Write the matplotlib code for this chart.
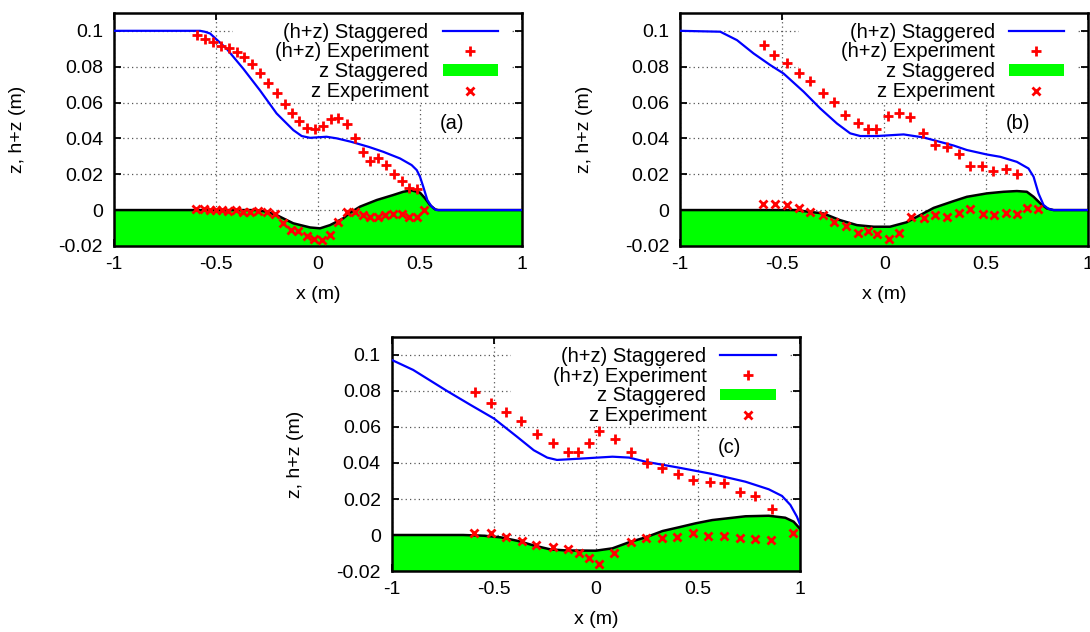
import matplotlib.pyplot as plt
from matplotlib.patches import Rectangle

plt.rcParams['font.family'] = ['Liberation Sans', 'DejaVu Sans']
plt.rcParams['font.size'] = 14

# ---- panel (a) ----
a_sim_x = [-1, -0.578, -0.555, -0.529, -0.448, -0.366, -0.284, -0.203, -0.121, -0.080, -0.039,
           0.042, 0.092, 0.162, 0.25, 0.320, 0.402, 0.459, 0.484, 0.500, 0.516, 0.536, 0.557, 0.580, 1]
a_sim_hz = [0.1, 0.1, 0.0995, 0.0985, 0.0900, 0.0788, 0.0667, 0.0539, 0.0446, 0.0413, 0.0403,
            0.0409, 0.0400, 0.0381, 0.0352, 0.0325, 0.0288, 0.0251, 0.0223, 0.0186, 0.0130, 0.0056, 0.0019, 0.0, 0.0]
a_bed_x = [-1, -0.301, -0.252, -0.203, -0.121, -0.039, 0.010, 0.059, 0.124, 0.157, 0.206, 0.288,
           0.369, 0.418, 0.459, 0.500, 0.525, 0.549, 0.574, 0.59, 1]
a_bed_z = [0, 0, -0.0009, -0.0028, -0.0074, -0.0097, -0.0102, -0.0084, -0.0046, -0.0015, 0.0019, 0.0056,
           0.0084, 0.0102, 0.0110, 0.0097, 0.0065, 0.0028, 0.0004, 0, 0]
a_exp_hz_x = [-0.595, -0.554, -0.516, -0.475, -0.436, -0.399, -0.361, -0.324, -0.284, -0.245, -0.203,
              -0.163, -0.126, -0.092, -0.052, -0.015, 0.026, 0.064, 0.100, 0.144, 0.180, 0.219, 0.255,
              0.296, 0.333, 0.373, 0.410, 0.448, 0.484]
a_exp_hz = [0.0976, 0.0954, 0.0939, 0.0917, 0.0902, 0.0880, 0.0855, 0.0814, 0.0762, 0.0707, 0.0651,
            0.0591, 0.0539, 0.0496, 0.0456, 0.0450, 0.0468, 0.0509, 0.0511, 0.0480, 0.0402, 0.0325, 0.0273,
            0.0290, 0.0249, 0.0199, 0.0163, 0.0124, 0.0115]
a_exp_z_x = [-0.598, -0.559, -0.529, -0.500, -0.469, -0.440, -0.402, -0.369, -0.333, -0.292, -0.252,
             -0.211, -0.170, -0.134, -0.100, -0.056, -0.020, 0.018, 0.059, 0.100, 0.144, 0.181, 0.219,
             0.255, 0.292, 0.328, 0.369, 0.410, 0.448, 0.484, 0.521]
a_exp_z = [0.0006, 0.0006, 0, 0, 0, -0.0006, 0, -0.0009, -0.0009, -0.0006, -0.0009,
           -0.0022, -0.0074, -0.0112, -0.0115, -0.0145, -0.0164, -0.0167, -0.0139, -0.0065, -0.0009, -0.0009, -0.0028,
           -0.0041, -0.0037, -0.0028, -0.0022, -0.0022, -0.0037, -0.0037, 0.0]

# ---- panel (b) ----
b_sim_x = [-1, -0.804, -0.722, -0.641, -0.559, -0.494, -0.395, -0.314, -0.232, -0.167, -0.118, -0.036,
           0.095, 0.193, 0.242, 0.340, 0.405, 0.503, 0.569, 0.650, 0.707, 0.732, 0.756, 0.781, 0.806, 0.83, 1]
b_sim_hz = [0.1, 0.0995, 0.0948, 0.0874, 0.0809, 0.0762, 0.0660, 0.0567, 0.0483, 0.0428, 0.0413, 0.0413,
            0.0422, 0.0405, 0.0390, 0.0360, 0.0335, 0.0310, 0.0297, 0.0269, 0.0232, 0.0186, 0.0093, 0.0028, 0.0006, 0, 0]
b_bed_x = [-1, -0.43, -0.395, -0.298, -0.217, -0.134, -0.052, 0.028, 0.110, 0.176, 0.242, 0.340, 0.405,
           0.503, 0.585, 0.650, 0.699, 0.732, 0.765, 0.797, 0.83, 1]
b_bed_z = [0, 0, -0.0006, -0.0019, -0.0056, -0.0084, -0.0093, -0.0093, -0.0068, -0.0028, 0.0012, 0.0050,
           0.0074, 0.0093, 0.0102, 0.0106, 0.0102, 0.0074, 0.0037, 0.0009, 0, 0]
b_exp_hz_x = [-0.588, -0.539, -0.477, -0.420, -0.363, -0.301, -0.248, -0.193, -0.131, -0.078, -0.039,
              0.018, 0.074, 0.127, 0.188, 0.247, 0.307, 0.366, 0.422, 0.479, 0.533, 0.598, 0.650]
b_exp_hz = [0.0920, 0.0864, 0.0822, 0.0766, 0.0721, 0.0654, 0.0604, 0.0530, 0.0483, 0.0455, 0.0455,
            0.0524, 0.0543, 0.0521, 0.0428, 0.0363, 0.0350, 0.0312, 0.0247, 0.0245, 0.0218, 0.0229, 0.0199]
b_exp_z_x = [-0.595, -0.538, -0.477, -0.420, -0.363, -0.302, -0.248, -0.186, -0.129, -0.078, -0.036,
             0.023, 0.074, 0.131, 0.193, 0.247, 0.307, 0.366, 0.422, 0.482, 0.539, 0.598, 0.650, 0.699, 0.752]
b_exp_z = [0.0033, 0.0033, 0.0028, 0.0009, -0.0009, -0.0028, -0.0065, -0.0089, -0.0130, -0.0117, -0.0134,
           -0.0164, -0.0126, -0.0041, -0.0046, -0.0028, -0.0037, -0.0015, 0.0004, -0.0022, -0.0028, -0.0019,
           -0.0022, 0.0009, 0.0004]

# ---- panel (c) ----
c_sim_x = [-1, -0.896, -0.733, -0.614, -0.5, -0.386, -0.305, -0.239, -0.191, -0.081, 0.081, 0.163,
           0.244, 0.407, 0.570, 0.733, 0.847, 0.912, 0.953, 0.985, 1]
c_sim_hz = [0.0972, 0.0917, 0.0802, 0.0722, 0.0647, 0.0545, 0.0471, 0.0430, 0.0417, 0.0424, 0.0435, 0.0430,
            0.0407, 0.0374, 0.0339, 0.0296, 0.0254, 0.0217, 0.0167, 0.0102, 0.0060]
c_bed_x = [-1, -0.651, -0.549, -0.467, -0.386, -0.305, -0.223, -0.142, 0.0, 0.081, 0.163, 0.244,
           0.326, 0.407, 0.489, 0.570, 0.733, 0.847, 0.928, 0.969, 1]
c_bed_z = [0, 0, -0.0004, -0.0013, -0.0032, -0.0058, -0.0080, -0.0086, -0.0087, -0.0074, -0.0040, -0.0013,
           0.0022, 0.0043, 0.0065, 0.0083, 0.0104, 0.0107, 0.0096, 0.0074, 0.0035]
c_exp_hz_x = [-0.594, -0.516, -0.443, -0.366, -0.288, -0.212, -0.138, -0.086, -0.033, 0.016, 0.094,
              0.174, 0.248, 0.322, 0.402, 0.476, 0.559, 0.630, 0.705, 0.782, 0.863]
c_exp_hz = [0.0793, 0.0731, 0.0685, 0.0635, 0.0561, 0.0509, 0.0463, 0.0463, 0.0513, 0.0580, 0.0531,
            0.0463, 0.0402, 0.0372, 0.0337, 0.0306, 0.0293, 0.0289, 0.0241, 0.0215, 0.0143]
c_exp_z_x = [-0.598, -0.516, -0.443, -0.363, -0.293, -0.212, -0.135, -0.081, -0.033, 0.016, 0.090,
             0.171, 0.244, 0.322, 0.399, 0.476, 0.549, 0.627, 0.705, 0.782, 0.860, 0.966]
c_exp_z = [0.0009, 0.0013, -0.0013, -0.0035, -0.0056, -0.0069, -0.0080, -0.0102, -0.0126, -0.0163, -0.0098,
           -0.0039, -0.0019, -0.0019, -0.0013, 0.0009, -0.0006, -0.0004, -0.0019, -0.0024, -0.0028, 0.0009]

x_ticks = [-1, -0.5, 0, 0.5, 1]
x_labels = ['-1', '-0.5', '0', '0.5', '1']
y_ticks = [-0.02, 0, 0.02, 0.04, 0.06, 0.08, 0.1]
y_labels = ['-0.02', '0', '0.02', '0.04', '0.06', '0.08', '0.1']


def draw_panel(ax, sx, shz, bx, bz, ehx, eh, ezx, ez, tag):
    ax.set_xlim(-1, 1)
    ax.set_ylim(-0.02, 0.11)
    ax.set_axisbelow(True)
    ax.grid(True, color='#555555', linestyle=(0, (1, 2.5)), linewidth=0.9)
    # opaque key background (gnuplot style)
    ax.add_patch(Rectangle((0.292, 0.618), 0.678, 0.382, transform=ax.transAxes,
                           facecolor='white', edgecolor='none', zorder=1))
    ax.plot(sx, shz, color='#0000ff', lw=1.6, zorder=3, label='(h+z) Staggered')
    ax.plot(ehx, eh, '+', color='#ff0000', ms=6.5, mew=2.0, zorder=4, label='(h+z) Experiment')
    ax.fill_between(bx, bz, -0.02, color='#00ff00', lw=0, zorder=1.5, label='z Staggered')
    ax.plot(bx, bz, color='black', lw=1.8, zorder=2.5)
    ax.plot(ezx, ez, 'x', color='#ff0000', ms=5.5, mew=2.0, zorder=4, label='z Experiment')
    ax.text(0.655, 0.0485, tag, ha='center', va='center', fontsize=14.5)

    ax.set_xticks(x_ticks, x_labels)
    ax.set_yticks(y_ticks, y_labels)
    ax.tick_params(direction='in', top=True, right=True, length=5, width=1.3)
    ax.tick_params(axis='x', pad=7)
    ax.tick_params(axis='y', pad=8)
    for s in ax.spines.values():
        s.set_linewidth(1.8)
    ax.set_xlabel('x (m)')
    ax.set_ylabel('z, h+z (m)')
    ax.xaxis.set_label_coords(0.5, -0.172)
    ax.yaxis.set_label_coords(-0.215, 0.5)

    leg = ax.legend(loc='upper right', bbox_to_anchor=(0.941, 0.958), frameon=False,
                    markerfirst=False, fontsize=14.5, handlelength=2.75, handleheight=0.5,
                    handletextpad=0.7, labelspacing=0.04, borderpad=0, borderaxespad=0)
    leg.set_zorder(5)


fig = plt.figure(figsize=(10.9, 6.32), dpi=100)
ax_a = fig.add_axes([0.1046, 0.6109, 0.3743, 0.3687])
ax_b = fig.add_axes([0.6241, 0.6109, 0.3743, 0.3687])
ax_c = fig.add_axes([0.3596, 0.0965, 0.3743, 0.3703])

draw_panel(ax_a, a_sim_x, a_sim_hz, a_bed_x, a_bed_z, a_exp_hz_x, a_exp_hz, a_exp_z_x, a_exp_z, '(a)')
draw_panel(ax_b, b_sim_x, b_sim_hz, b_bed_x, b_bed_z, b_exp_hz_x, b_exp_hz, b_exp_z_x, b_exp_z, '(b)')
draw_panel(ax_c, c_sim_x, c_sim_hz, c_bed_x, c_bed_z, c_exp_hz_x, c_exp_hz, c_exp_z_x, c_exp_z, '(c)')

fig.savefig('out.png', dpi=100)
